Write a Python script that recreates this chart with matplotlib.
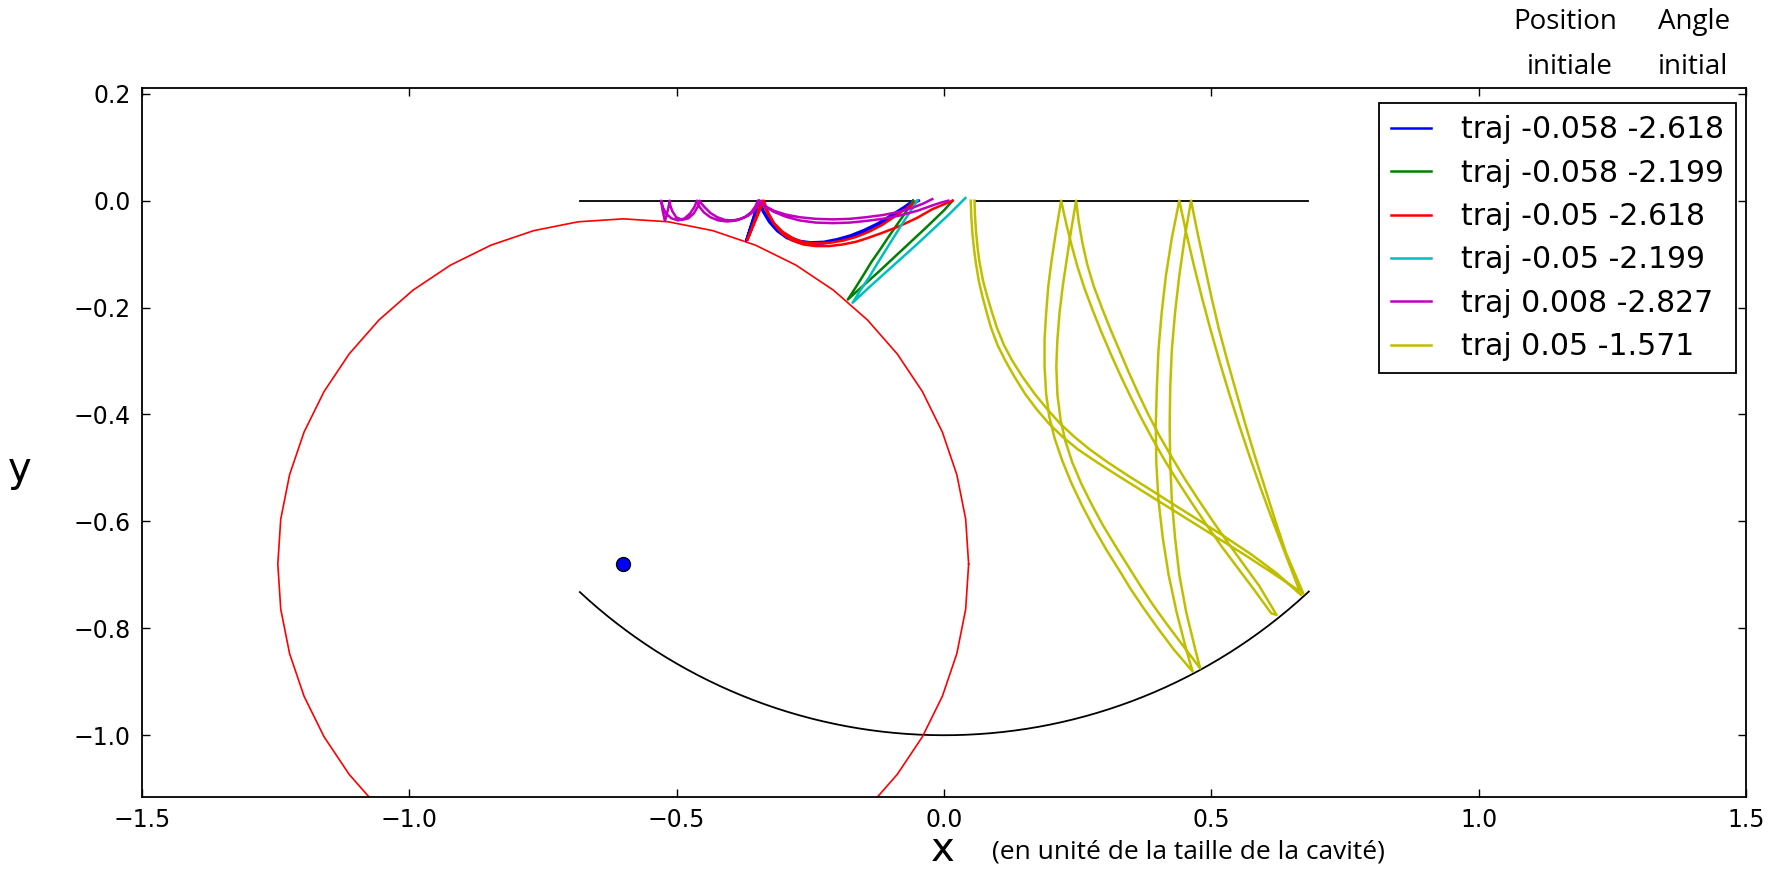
import numpy as np
import matplotlib
matplotlib.use('Agg')
import matplotlib.pyplot as plt

# cavity walls: flat top with an opening, circular bottom of radius 1
top_left_x = [-0.68, -0.058]
top_right_x = [0.058, 0.68]
arc_radius = 1.0
arc_theta = [-2.32, -0.82]

# red circle and its centre
circ_center = (-0.6, -0.68)
circ_radius = 0.646
circ_npts = 48

labels = ['traj -0.058 -2.618', 'traj -0.058 -2.199', 'traj -0.05 -2.618',
          'traj -0.05 -2.199', 'traj 0.008 -2.827', 'traj 0.05 -1.571']
colors = ['b', 'g', 'r', 'c', 'm', 'y']

blue_x = [-0.058, -0.075, -0.10, -0.125, -0.15, -0.175, -0.20, -0.225, -0.25,
          -0.272, -0.292, -0.310, -0.325, -0.337, -0.345, -0.370, -0.347,
          -0.339, -0.327, -0.312, -0.294, -0.273, -0.25, -0.225, -0.20,
          -0.175, -0.15, -0.125, -0.10, -0.073, -0.047]
blue_y = [0.0, -0.012, -0.028, -0.043, -0.055, -0.065, -0.072, -0.077, -0.078,
          -0.075, -0.067, -0.054, -0.038, -0.020, 0.0, -0.075, 0.0,
          -0.020, -0.040, -0.057, -0.070, -0.078, -0.081, -0.080, -0.075,
          -0.068, -0.058, -0.046, -0.032, -0.016, 0.0]

green_x = [-0.058, -0.072, -0.088, -0.104, -0.12, -0.136, -0.150, -0.165, -0.180,
           -0.15, -0.12, -0.09, -0.06, -0.03, 0.0, 0.016]
green_y = [0.0, -0.022, -0.045, -0.068, -0.092, -0.115, -0.138, -0.162, -0.185,
           -0.158, -0.131, -0.103, -0.075, -0.047, -0.018, 0.0]

red_x = [-0.05, -0.068, -0.09, -0.115, -0.14, -0.165, -0.19, -0.215, -0.24,
         -0.262, -0.283, -0.302, -0.318, -0.331, -0.34, -0.368, -0.337,
         -0.329, -0.318, -0.303, -0.285, -0.263, -0.24, -0.215, -0.19, -0.165,
         -0.146, -0.115, -0.084, -0.05, -0.022, 0.016]
red_y = [0.0, -0.013, -0.028, -0.045, -0.058, -0.068, -0.075, -0.079, -0.080,
         -0.078, -0.070, -0.058, -0.042, -0.022, 0.0, -0.074, 0.0,
         -0.022, -0.043, -0.061, -0.074, -0.082, -0.085, -0.085, -0.082, -0.077,
         -0.071, -0.060, -0.048, -0.032, -0.016, 0.0]

cyan_x = [-0.05, -0.065, -0.08, -0.095, -0.11, -0.125, -0.14, -0.156, -0.171,
          -0.14, -0.11, -0.08, -0.05, -0.02, 0.01, 0.04]
cyan_y = [0.0, -0.023, -0.046, -0.070, -0.094, -0.118, -0.143, -0.167, -0.191,
          -0.162, -0.135, -0.108, -0.081, -0.053, -0.025, 0.005]

mag_x = [0.008, -0.007, -0.022, -0.05, -0.084, -0.115, -0.146, -0.176, -0.208,
         -0.24, -0.27, -0.296, -0.318, -0.335, -0.345,
         -0.349, -0.356, -0.366, -0.380, -0.395, -0.410, -0.424, -0.437,
         -0.447, -0.454, -0.457,
         -0.461, -0.468, -0.478, -0.490, -0.501, -0.508, -0.512, -0.513,
         -0.516, -0.519, -0.522, -0.526, -0.529,
         -0.526, -0.520, -0.510, -0.497, -0.485, -0.475, -0.467, -0.462,
         -0.457, -0.449, -0.437, -0.422, -0.405, -0.388, -0.373, -0.361,
         -0.353, -0.348,
         -0.335, -0.318, -0.296, -0.27, -0.24, -0.208, -0.176, -0.146,
         -0.115, -0.084, -0.058, -0.038, -0.022]
mag_y = [0.0, -0.004, -0.009, -0.019, -0.028, -0.034, -0.038, -0.041, -0.042,
         -0.041, -0.037, -0.030, -0.021, -0.011, 0.0,
         -0.010, -0.020, -0.028, -0.034, -0.037, -0.036, -0.031, -0.023,
         -0.013, -0.005, 0.0,
         -0.012, -0.024, -0.033, -0.036, -0.031, -0.020, -0.009, 0.0,
         -0.015, -0.028, -0.038, -0.020, 0.0,
         -0.012, -0.024, -0.033, -0.037, -0.033, -0.024, -0.012, 0.0,
         -0.012, -0.022, -0.031, -0.037, -0.039, -0.037, -0.031, -0.022,
         -0.011, 0.0,
         -0.010, -0.019, -0.026, -0.031, -0.034, -0.035, -0.034, -0.031,
         -0.027, -0.021, -0.013, -0.005, 0.003]

# yellow trajectory, leg by leg (each leg is traced out and back)
y1a_x = [0.050, 0.051, 0.053, 0.056, 0.059, 0.065, 0.072, 0.080, 0.088, 0.100,
         0.115, 0.132, 0.152, 0.173, 0.197, 0.222, 0.250, 0.287, 0.326, 0.366,
         0.414, 0.462, 0.510, 0.560, 0.615, 0.672]
y1a_y = [0.0, -0.030, -0.060, -0.090, -0.113, -0.150, -0.180, -0.210, -0.238,
         -0.270, -0.300, -0.330, -0.362, -0.390, -0.418, -0.442, -0.465, -0.490,
         -0.515, -0.540, -0.570, -0.600, -0.630, -0.661, -0.697, -0.735]
y2a_x = [0.640, 0.620, 0.601, 0.582, 0.564, 0.547, 0.530, 0.514, 0.500, 0.487,
         0.474, 0.462]
y2a_y = [-0.66, -0.60, -0.54, -0.48, -0.42, -0.36, -0.30, -0.24, -0.18, -0.12,
         -0.06, 0.0]
y3a_x = [0.450, 0.440, 0.432, 0.426, 0.423, 0.422, 0.423, 0.426, 0.432, 0.440,
         0.453, 0.470, 0.479]
y3a_y = [-0.07, -0.14, -0.21, -0.28, -0.35, -0.42, -0.49, -0.56, -0.63, -0.70,
         -0.77, -0.84, -0.875]
y4a_x = [0.445, 0.415, 0.390, 0.367, 0.345, 0.320, 0.297, 0.277, 0.257, 0.240,
         0.227, 0.218, 0.212, 0.210, 0.212, 0.216, 0.222, 0.229, 0.237, 0.247]
y4a_y = [-0.830, -0.790, -0.755, -0.720, -0.685, -0.645, -0.607, -0.570, -0.530,
         -0.490, -0.450, -0.410, -0.362, -0.310, -0.260, -0.210, -0.160, -0.113,
         -0.060, 0.0]
y5a_x = [0.252, 0.259, 0.268, 0.280, 0.295, 0.311, 0.328, 0.345, 0.363, 0.382,
         0.403, 0.426, 0.450, 0.476, 0.503, 0.531, 0.560, 0.589, 0.622]
y5a_y = [-0.040, -0.080, -0.120, -0.160, -0.200, -0.240, -0.280, -0.320, -0.360,
         -0.400, -0.440, -0.480, -0.520, -0.560, -0.600, -0.640, -0.680, -0.720,
         -0.775]
y5b_x = [0.612, 0.580, 0.550, 0.520, 0.492, 0.465, 0.439, 0.414, 0.390, 0.368,
         0.348, 0.329, 0.311, 0.294, 0.278, 0.263, 0.250, 0.239, 0.229, 0.219]
y5b_y = [-0.772, -0.728, -0.688, -0.648, -0.608, -0.568, -0.528, -0.488, -0.446,
         -0.405, -0.365, -0.325, -0.285, -0.245, -0.205, -0.165, -0.125, -0.085,
         -0.045, 0.0]
y4b_x = [0.209, 0.201, 0.195, 0.191, 0.188, 0.188, 0.191, 0.197, 0.207, 0.221,
         0.238, 0.258, 0.280, 0.303, 0.328, 0.350, 0.373, 0.400, 0.430, 0.465]
y4b_y = [-0.060, -0.113, -0.160, -0.210, -0.260, -0.310, -0.362, -0.405, -0.445,
         -0.486, -0.528, -0.570, -0.612, -0.652, -0.692, -0.728, -0.762, -0.800,
         -0.840, -0.881]
y3b_x = [0.453, 0.435, 0.420, 0.409, 0.401, 0.397, 0.396, 0.398, 0.401, 0.407,
         0.415, 0.426, 0.440]
y3b_y = [-0.84, -0.77, -0.70, -0.63, -0.56, -0.49, -0.42, -0.35, -0.28, -0.21,
         -0.14, -0.07, 0.0]
y2b_x = [0.453, 0.467, 0.482, 0.498, 0.515, 0.533, 0.552, 0.572, 0.593, 0.615,
         0.638, 0.668]
y2b_y = [-0.06, -0.12, -0.18, -0.24, -0.30, -0.36, -0.42, -0.48, -0.54, -0.60,
         -0.66, -0.738]
y1b_x = [0.622, 0.575, 0.527, 0.480, 0.432, 0.385, 0.345, 0.307, 0.272, 0.244,
         0.218, 0.193, 0.170, 0.147, 0.128, 0.112, 0.099, 0.090, 0.081, 0.073,
         0.066, 0.063, 0.060, 0.058, 0.057]
y1b_y = [-0.697, -0.662, -0.630, -0.600, -0.570, -0.540, -0.515, -0.490, -0.465,
         -0.442, -0.418, -0.390, -0.362, -0.330, -0.300, -0.270, -0.238, -0.210,
         -0.180, -0.150, -0.113, -0.090, -0.060, -0.030, 0.0]

yel_x = y1a_x + y2a_x + y3a_x + y4a_x + y5a_x + y5b_x + y4b_x + y3b_x + y2b_x + y1b_x
yel_y = y1a_y + y2a_y + y3a_y + y4a_y + y5a_y + y5b_y + y4b_y + y3b_y + y2b_y + y1b_y

traj_x = [blue_x, green_x, red_x, cyan_x, mag_x, yel_x]
traj_y = [blue_y, green_y, red_y, cyan_y, mag_y, yel_y]

fig = plt.figure(figsize=(17.77, 8.71), dpi=100)
ax = fig.add_axes([0.0799, 0.0853, 0.9027, 0.8132])

# cavity
ax.plot(top_left_x, [0, 0], 'k-', lw=1.3)
ax.plot(top_right_x, [0, 0], 'k-', lw=1.3)
th = np.linspace(arc_theta[0], arc_theta[1], 200)
ax.plot(arc_radius * np.cos(th), arc_radius * np.sin(th), 'k-', lw=1.3)

# red circle
phi = np.linspace(0, 2 * np.pi, circ_npts + 1)
ax.plot(circ_center[0] + circ_radius * np.cos(phi),
        circ_center[1] + circ_radius * np.sin(phi), 'r-', lw=1.2)
ax.plot(circ_center[0], circ_center[1], 'o', color='b', mec='k', ms=10)

lines = []
for tx, ty, c, lab in zip(traj_x, traj_y, colors, labels):
    l, = ax.plot(tx, ty, '-', color=c, lw=1.8, label=lab)
    lines.append(l)

ax.set_xlim(-1.5, 1.5)
ax.set_ylim(-1.115, 0.21)
ax.set_xticks([-1.5, -1.0, -0.5, 0.0, 0.5, 1.0, 1.5])
ax.set_yticks([-1.0, -0.8, -0.6, -0.4, -0.2, 0.0, 0.2])
ax.tick_params(direction='in', top=True, right=True, length=6, width=1,
               labelsize=17, pad=8)
for s in ax.spines.values():
    s.set_linewidth(1.3)

leg = ax.legend(handles=lines, loc='upper right',
                bbox_to_anchor=(1 - 10 / 1604, 1 - 15 / 708), borderaxespad=0,
                fontsize=21.5, handlelength=1.35, handletextpad=1.0,
                labelspacing=0.48, borderpad=0.4, fancybox=False,
                framealpha=1, edgecolor='k')
leg.get_frame().set_linewidth(1.3)

fig.text(0.0113, 0.4604, 'y', fontsize=29, ha='center', va='center')
fig.text(0.5307, 0.024, 'x', fontsize=29, ha='center', va='center')
fig.text(0.558, 0.022, '(en unité de la taille de la cavité)',
         family='Open Sans', fontsize=19, ha='left', va='center')
fig.text(0.8807, 0.975, 'Position', family='Open Sans', fontsize=20,
         ha='center', va='center')
fig.text(0.8835, 0.923, 'initiale', family='Open Sans', fontsize=20,
         ha='center', va='center')
fig.text(0.9535, 0.975, 'Angle', family='Open Sans', fontsize=20,
         ha='center', va='center')
fig.text(0.953, 0.923, 'initial', family='Open Sans', fontsize=20,
         ha='center', va='center')

fig.savefig('out.png', dpi=100, facecolor='white')
